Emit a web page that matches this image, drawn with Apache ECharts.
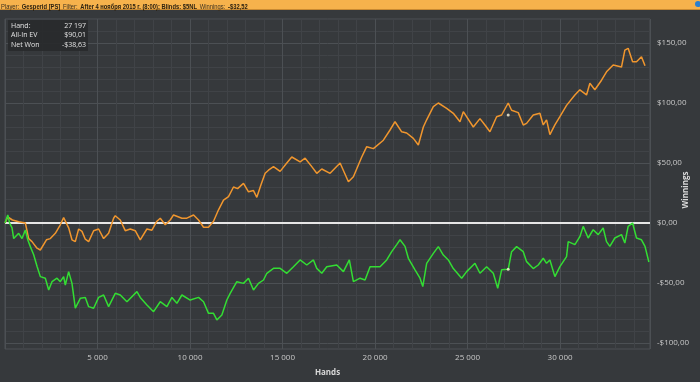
<!DOCTYPE html>
<html>
<head>
<meta charset="utf-8">
<script src="https://cdn.jsdelivr.net/npm/echarts@6/dist/echarts.min.js"></script>
<style>
html,body{margin:0;padding:0;background:#36393c;}
#chart{width:700px;height:382px;}
</style>
</head>
<body>
<div id="chart"></div>
<script>
// ---- Data ----
const evHands = [0,150,400,740,1100,1280,1460,1730,1910,2240,2450,2720,2990,3170,3440,3620,3800,3980,4160,4340,4520,4790,5060,5330,5600,5870,5960,6230,6500,6770,7040,7310,7670,7940,8210,8390,8660,8930,9110,9560,9830,10190,10460,10730,11000,11270,11540,11810,12080,12350,12570,12890,13160,13430,13610,13830,14060,14240,14510,14870,15230,15500,15950,16220,16580,16850,17120,17570,18110,18560,18830,19280,19550,19910,20450,20810,21080,21440,21710,22070,22340,22610,22790,23150,23420,23870,24230,24590,24770,25310,25670,25940,26210,26570,26840,27197,27380,27740,28010,28190,28550,28910,29090,29270,29450,29720,29990,30350,30800,31070,31430,31610,31880,32240,32510,32870,33320,33500,33680,33920,34130,34400,34590,34800];
const evValues = [0,5,2.5,1,0,-13,-15.5,-21,-22.5,-14,-13,-8.6,-1.5,4.5,-4,-14,-15.5,-5,-7,-13.5,-15.5,-6.5,-5,-13,-8.6,4,6,2.5,-6.4,-5,-6.4,-14,-5,-6,1.5,4,-1.5,2.5,6.7,4,4,6.7,2.5,-3.5,-3.5,1.5,11,19,22,30,28.6,33,26,27,21.4,31.7,41.4,44,47,43,50,55,51,54,47,41.4,45,41.4,50,34.4,38.6,55,63.6,62,69,77.5,84.4,76,75,70.5,65,80,86,97,100,95.6,91.4,84.4,92.8,80,87,81.7,76,88.6,90.01,100,94,92,81.7,83,90,91.4,81.7,86,73.6,81.7,88.6,98,106.7,111,106.7,116.4,111,119,126,131.7,130,144,145.6,134.4,134.4,138.6,131];

const netHands = [0,150,250,380,470,740,920,1100,1230,1370,1550,1730,1910,2180,2360,2540,2810,2990,3170,3260,3440,3620,3800,4070,4340,4520,4790,5060,5330,5600,5960,6230,6590,7130,7310,7670,8030,8390,8750,9020,9290,9560,10010,10460,10730,11000,11270,11450,11720,11990,12170,12530,12890,13160,13430,13700,13970,14150,14510,14870,15230,15590,15950,16310,16670,16850,17120,17390,17930,18290,18610,18830,19190,19460,19730,20270,20630,20900,21170,21350,21620,21800,22160,22430,22580,22790,23150,23420,23690,23960,24230,24680,24950,25400,25670,26030,26390,26630,26840,27197,27380,27650,28010,28190,28550,28820,29090,29270,29450,29720,29990,30350,30440,30800,31070,31250,31520,31790,32060,32330,32510,32690,32960,33320,33500,33680,33920,34130,34400,34590,34800];
const netValues = [0,6.7,0,-4,-13,-8.6,-13,-5.8,-14,-19.7,-26.4,-36,-44.7,-46,-55.8,-48.9,-46,-48.9,-44.7,-51.7,-40.5,-50.3,-71,-62.8,-62,-69.7,-71,-62,-60,-69.7,-58.6,-60,-65.6,-57.2,-62,-68.3,-73.9,-65.6,-69.7,-62,-66.9,-60,-64.2,-62,-65.6,-75.3,-75.3,-80.8,-76.7,-64.2,-58.6,-48.9,-50.3,-46,-55.8,-50.3,-47.5,-41.9,-37.8,-37.8,-41.9,-36.4,-30.8,-35,-30.8,-37.8,-41.9,-36.4,-35,-40.5,-30.8,-48.9,-46,-47.5,-36.4,-36.4,-30.8,-23.9,-18,-14,-19.5,-29.4,-39,-46,-53,-33.6,-25.3,-19.7,-26.7,-30.8,-38,-46,-40.5,-33.6,-41.9,-36.4,-41.9,-54.4,-39,-38.63,-23.9,-19.7,-23.9,-32.2,-38,-35,-29.4,-33.6,-30.8,-44.7,-36.4,-28,-15.5,-18,-11.4,-2.8,-12.5,-5.6,-9.7,-4.2,-15.5,-19.5,-12.5,-9.7,-16.7,-2.8,0,-12.5,-14,-19.5,-32.52];

const hoverHand = 27197;
const hoverEv = 90.01;
const hoverNet = -38.63;

const xTickValues = [5000,10000,15000,20000,25000,30000];
const xTickLabels = ['5 000','10 000','15 000','20 000','25 000','30 000'];
const yTickValues = [-100,-50,0,50,100,150];
const yTickLabels = ['-$100,00','-$50,00','$0,00','$50,00','$100,00','$150,00'];

const infoLabels = ['Hand:','All-In EV','Net Won'];
const infoValues = ['27 197','$90,01','-$38,63'];

// ---- Styles ----
const MAJOR = '#4c5054';
const MINOR = '#404347';
const NONE = 'rgba(0,0,0,0)';
const FONT = 'Open Sans';
const HFONT = '"Liberation Sans", sans-serif';

function zip(xs, ys){ return xs.map((x,i)=>[x, ys[i]]); }

const infoTexts = [];
infoLabels.forEach((t, i) => infoTexts.push({
  type: 'text', x: 11, y: 22 + i * 9.5, z: 11,
  style: {text: t, fill: '#e2e2e2', fontSize: 7, fontFamily: FONT}
}));
infoValues.forEach((t, i) => infoTexts.push({
  type: 'text', x: 86, y: 22 + i * 9.5, z: 11,
  style: {text: t, fill: '#e2e2e2', fontSize: 7, fontFamily: FONT, align: 'right'}
}));

const chart = echarts.init(document.getElementById('chart'), null, {renderer:'canvas'});
chart.setOption({
  backgroundColor: '#36393c',
  animation: false,
  grid: {left: 5, right: 50, top: 19, bottom: 33, show: true, borderColor: MAJOR, borderWidth: 1,
    backgroundColor: '#36393c', containLabel: false, outerBoundsMode: 'none'},
  xAxis: {
    type: 'value', min: 0, max: 34860, interval: 1000,
    name: 'Hands', nameLocation: 'middle', nameGap: 20,
    nameTextStyle: {color: '#d8d8d8', fontSize: 8, fontWeight: 'bold', fontFamily: FONT},
    axisLine: {show: false},
    axisTick: {show: true, length: 3, lineStyle: {color: MAJOR}},
    axisLabel: {color: '#c8c8c8', fontSize: 8, fontFamily: FONT, margin: 5,
      formatter: v => { const i = xTickValues.indexOf(v); return i >= 0 ? xTickLabels[i] : ''; }},
    splitLine: {show: true, lineStyle: {width: 1, color: [MAJOR, MINOR, MINOR, MINOR, MINOR]}}
  },
  yAxis: {
    type: 'value', position: 'right', min: -105, max: 170, interval: 5,
    axisLine: {show: false},
    axisTick: {show: false},
    axisLabel: {color: '#c8c8c8', fontSize: 8, fontFamily: FONT, margin: 7,
      formatter: v => { const i = yTickValues.indexOf(v); return i >= 0 ? yTickLabels[i] : ''; }},
    splitLine: {show: true, lineStyle: {width: 1, color: [NONE, MAJOR, NONE, MINOR, NONE, MINOR, NONE, MINOR, NONE, MINOR]}}
  },
  series: [
    {
      name: 'All-In EV', type: 'line', data: zip(evHands, evValues),
      showSymbol: false, symbol: 'none', lineStyle: {color: '#f0962e', width: 1.5}, z: 3,
      markLine: {silent: true, symbol: 'none', label: {show: false},
        lineStyle: {color: '#e6e6e6', width: 2, type: 'solid'}, data: [{yAxis: 0}], z: 2}
    },
    {
      name: 'Net Won', type: 'line', data: zip(netHands, netValues),
      showSymbol: false, symbol: 'none', lineStyle: {color: '#33dd33', width: 1.5}, z: 3
    },
    {
      type: 'scatter', data: [[hoverHand, hoverEv], [hoverHand, hoverNet]],
      symbolSize: 3, itemStyle: {color: '#fff6d8'}, z: 5
    }
  ],
  graphic: [
    {type: 'rect', x: 0, y: 0, shape: {x: 0, y: 0, width: 700, height: 9}, style: {fill: '#f6b24c'}, z: 10},
    {type: 'rect', x: 0, y: 0, shape: {x: 0, y: 9, width: 700, height: 1}, style: {fill: '#c98a32'}, z: 10},
    {type: 'circle', shape: {cx: 698, cy: 4, r: 3}, style: {fill: '#2a7fd0'}, z: 11},
    {type: 'text', x: 1, y: 1, scaleX: 0.83, z: 11, style: {
      text: '{n|Player:} {b|Gesperid [PS]} {n|Filter:} {b|After 4 ноября 2015 г. (8:00); Blinds: $5NL} {n|Winnings:} {b|-$32,52}',
      rich: {
        n: {fontSize: 7, fontFamily: HFONT, fill: '#3a3020', fontWeight: 'normal'},
        b: {fontSize: 7, fontFamily: HFONT, fill: '#2a2010', fontWeight: 'bold'}
      }
    }},
    {type: 'text', x: 686, y: 190, rotation: Math.PI / 2, z: 11, style: {
      text: 'Winnings', fill: '#d8d8d8', fontSize: 8, fontWeight: 'bold', fontFamily: FONT,
      align: 'center', verticalAlign: 'middle'
    }},
    {type: 'rect', x: 0, y: 0, shape: {x: 8, y: 20, width: 80, height: 31}, style: {fill: 'rgba(40,42,45,0.92)'}, z: 10}
  ].concat(infoTexts)
});
</script>
</body>
</html>
